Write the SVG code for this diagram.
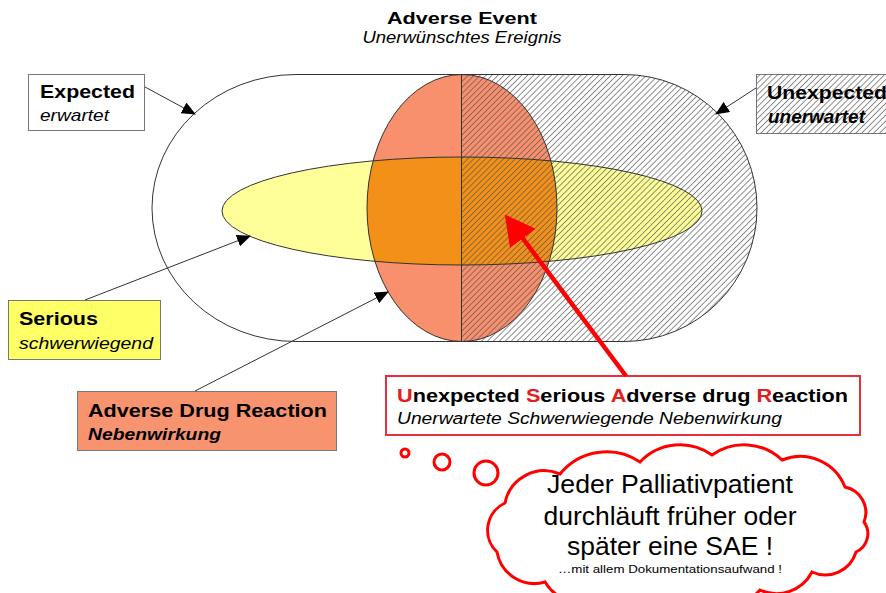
<svg xmlns="http://www.w3.org/2000/svg" width="886" height="593" viewBox="0 0 886 593">
<style>
text{font-family:"Liberation Sans",Arial,sans-serif;fill:#000}
.b{font-weight:bold}
.i{font-style:italic}
.conn{stroke:#333;stroke-width:1;fill:none}
.out{fill:none;stroke:#333;stroke-width:1}
.red{fill:#E02020}
</style>
<defs>
<pattern id="hatch" patternUnits="userSpaceOnUse" width="4.2" height="4.2" patternTransform="rotate(-45)">
<rect width="4.2" height="4.2" fill="none"/>
<path d="M0,2.1 H4.2" stroke="#555" stroke-width="0.9" stroke-opacity="0.75"/>
</pattern>
<marker id="ah" markerUnits="userSpaceOnUse" markerWidth="14" markerHeight="12" refX="13" refY="6" orient="auto">
<path d="M0,0 L14,6 L0,12 z" fill="#000"/>
</marker>
<marker id="rah" markerUnits="userSpaceOnUse" markerWidth="30" markerHeight="32" refX="3" refY="16" orient="auto">
<path d="M0,0 L30,16 L0,32 z" fill="#FF0000"/>
</marker>
<path id="stadium" d="M296,74.5 H624 A133,133.5 0 0 1 624,341.5 H296 A144,133.5 0 0 1 296,74.5 Z"/>
<clipPath id="clipStadium"><use href="#stadium"/></clipPath>
<clipPath id="clipRed"><ellipse cx="462" cy="208" rx="95" ry="133.5"/></clipPath>
</defs>
<rect width="886" height="593" fill="#fff"/>

<g id="title">
<text x="462" y="24" class="b" font-size="17" text-anchor="middle" textLength="150" lengthAdjust="spacingAndGlyphs">Adverse Event</text>
<text x="462" y="43" class="i" font-size="16.5" text-anchor="middle" textLength="199" lengthAdjust="spacingAndGlyphs">Unerwünschtes Ereignis</text>
</g>

<g id="venn">
<use href="#stadium" fill="#fff"/>
<ellipse cx="462" cy="211" rx="240" ry="54" fill="#FFFF99"/>
<ellipse cx="462" cy="208" rx="95" ry="133.5" fill="#F88F6D"/>
<ellipse cx="462" cy="211" rx="240" ry="54" fill="#F39017" clip-path="url(#clipRed)"/>
<g clip-path="url(#clipStadium)">
<rect x="461.5" y="70" width="300" height="280" fill="url(#hatch)"/>
</g>
<use href="#stadium" class="out" stroke="#555"/>
<ellipse cx="462" cy="211" rx="240" ry="54" class="out"/>
<ellipse cx="462" cy="208" rx="95" ry="133.5" class="out"/>
<line x1="461.5" y1="74.5" x2="461.5" y2="341.5" stroke="#333" stroke-width="1"/>
</g>

<g id="expected">
<rect x="28.5" y="74.5" width="116" height="56" fill="#fff" stroke="#777" stroke-width="1"/>
<text x="40" y="98" class="b" font-size="18" textLength="95" lengthAdjust="spacingAndGlyphs">Expected</text>
<text x="40" y="121" class="i" font-size="17" textLength="69" lengthAdjust="spacingAndGlyphs">erwartet</text>
</g>

<g id="unexpected">
<rect x="756.5" y="74.5" width="140" height="59" fill="#fff" stroke="#777" stroke-width="1"/>
<rect x="756.5" y="74.5" width="140" height="59" fill="url(#hatch)"/>
<text x="767" y="99" class="b" font-size="18" textLength="120" lengthAdjust="spacingAndGlyphs">Unexpected</text>
<text x="768" y="123" class="b i" font-size="18" textLength="97" lengthAdjust="spacingAndGlyphs">unerwartet</text>
</g>

<g id="serious">
<rect x="8.5" y="300.5" width="152" height="59" fill="#FFFF66" stroke="#777" stroke-width="1"/>
<text x="19" y="325" class="b" font-size="18" textLength="79" lengthAdjust="spacingAndGlyphs">Serious</text>
<text x="19" y="349" class="i" font-size="17" textLength="134" lengthAdjust="spacingAndGlyphs">schwerwiegend</text>
</g>

<g id="adr">
<rect x="77.5" y="391.5" width="259" height="59" fill="#F8936F" stroke="#777" stroke-width="1"/>
<text x="88" y="417" class="b" font-size="18" textLength="239" lengthAdjust="spacingAndGlyphs">Adverse Drug Reaction</text>
<text x="88" y="440" class="b i" font-size="17" textLength="133" lengthAdjust="spacingAndGlyphs">Nebenwirkung</text>
</g>

<g id="susar">
<rect x="386" y="376" width="474" height="59" fill="#fff" stroke="#E8303A" stroke-width="2"/>
<text x="397" y="402" class="b" font-size="18.5" textLength="451" lengthAdjust="spacingAndGlyphs"><tspan class="red">U</tspan>nexpected <tspan class="red">S</tspan>erious <tspan class="red">A</tspan>dverse drug <tspan class="red">R</tspan>eaction</text>
<text x="397" y="424" class="i" font-size="16" textLength="385" lengthAdjust="spacingAndGlyphs">Unerwartete Schwerwiegende Nebenwirkung</text>
</g>

<g id="connectors">
<line x1="145" y1="87" x2="195" y2="114" class="conn" marker-end="url(#ah)"/>
<line x1="756" y1="88" x2="716" y2="114" class="conn" marker-end="url(#ah)"/>
<line x1="85" y1="300" x2="250" y2="236" class="conn" marker-end="url(#ah)"/>
<line x1="195" y1="391" x2="388" y2="292" class="conn" marker-end="url(#ah)"/>
<line x1="626" y1="376" x2="521" y2="236" stroke="#FF0000" stroke-width="4.5" marker-end="url(#rah)"/>
</g>

<g id="thought" fill="#fff" stroke="#FF0000" stroke-width="3">
<circle cx="405" cy="453" r="4"/>
<circle cx="442" cy="462" r="8"/>
<circle cx="486" cy="473" r="12"/>
<path d="M497,552 A30,30 0 0 1 505,503 A40,40 0 0 1 560,474 A60,60 0 0 1 640,462 A55,55 0 0 1 712,455 A55,55 0 0 1 782,460 A48,48 0 0 1 845,487 A26,26 0 0 1 864,522 A20,20 0 0 1 856,552 A32,32 0 0 1 812,572 A40,40 0 0 1 760,590 A60,60 0 0 1 680,598 A60,60 0 0 1 600,596 A40,40 0 0 1 545,582 A38,38 0 0 1 497,552 Z"/>
</g>

<g id="cloudtext" text-anchor="middle">
<text x="670" y="493" font-size="25" textLength="246" lengthAdjust="spacingAndGlyphs">Jeder Palliativpatient</text>
<text x="670" y="525" font-size="25" textLength="253" lengthAdjust="spacingAndGlyphs">durchläuft früher oder</text>
<text x="670" y="555" font-size="25" textLength="206" lengthAdjust="spacingAndGlyphs">später eine SAE !</text>
<text x="670" y="573" font-size="10" textLength="224" lengthAdjust="spacingAndGlyphs">…mit allem Dokumentationsaufwand !</text>
</g>
</svg>
